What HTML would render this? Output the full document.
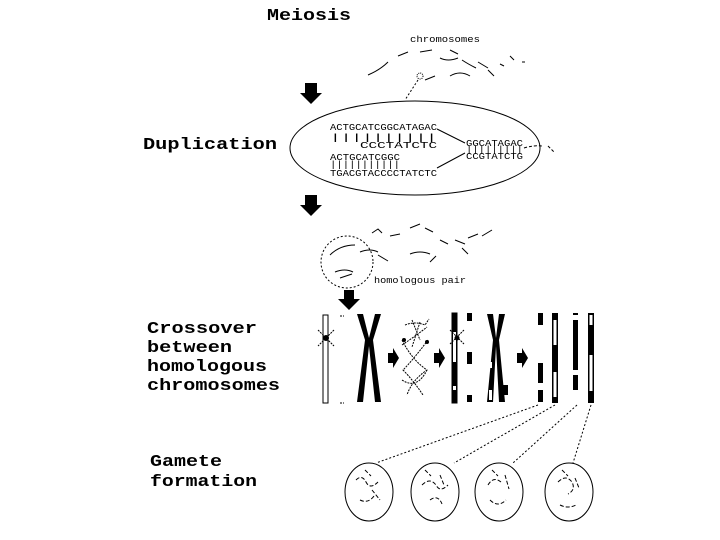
<!DOCTYPE html>
<html><head><style>
html,body{margin:0;padding:0;background:#fff;}
svg{display:block;}
.t{font-family:"Liberation Mono",monospace;font-weight:bold;font-size:17px;fill:#000;}
.s{font-family:"Liberation Mono",monospace;font-size:9px;fill:#000;}
</style></head><body>
<svg width="720" height="540" viewBox="0 0 720 540" xmlns="http://www.w3.org/2000/svg">
<rect width="720" height="540" fill="#fff"/>
<text class="t" x="267" y="20" textLength="84" lengthAdjust="spacingAndGlyphs">Meiosis</text>
<text class="t" x="143" y="149" textLength="134" lengthAdjust="spacingAndGlyphs">Duplication</text>
<text class="t" x="147" y="333" textLength="110" lengthAdjust="spacingAndGlyphs">Crossover</text>
<text class="t" x="147" y="352" textLength="85" lengthAdjust="spacingAndGlyphs">between</text>
<text class="t" x="147" y="371" textLength="120" lengthAdjust="spacingAndGlyphs">homologous</text>
<text class="t" x="147" y="390" textLength="133" lengthAdjust="spacingAndGlyphs">chromosomes</text>
<text class="t" x="150" y="466" textLength="72" lengthAdjust="spacingAndGlyphs">Gamete</text>
<text class="t" x="150" y="486" textLength="107" lengthAdjust="spacingAndGlyphs">formation</text>
<text class="s" x="410" y="42" textLength="70" lengthAdjust="spacingAndGlyphs">chromosomes</text>
<text class="s" x="374" y="283" textLength="92" lengthAdjust="spacingAndGlyphs">homologous pair</text>

<g fill="#000">
<polygon points="305,83 317,83 317,93 322,93 311,104 300,93 305,93"/>
<polygon points="305,195 317,195 317,205 322,205 311,216 300,205 305,205"/>
<polygon points="344,290 354,290 354,299 360,299 349,310 338,299 344,299"/>
<polygon points="388,353 393,353 393,348 399,358 393,368 393,363 388,363"/>
<polygon points="434,353 439,353 439,348 445,358 439,368 439,363 434,363"/>
<polygon points="517,353 522,353 522,348 528,358 522,368 522,363 517,363"/>
</g>

<g fill="none" stroke="#000" stroke-width="1">
<path d="M368,75 Q380,70 388,62 M398,56 l10,-4 M420,52 l12,-2 M450,50 l8,4 M440,58 q8,4 18,0 M462,60 q6,4 14,8 M478,62 l10,6 M488,70 l6,6 M450,76 q10,-6 20,0 M425,80 l10,-4 M500,64 l4,2 M510,56 l4,4 M522,62 l3,0"/>
<circle cx="420" cy="76" r="3" stroke-dasharray="1,1"/>
<path d="M418,80 L405,100" stroke-dasharray="2,2"/>
<ellipse cx="415" cy="148" rx="125" ry="47"/>
<path d="M437,129 L465,143 M437,168 L465,153"/>
<path d="M524,148 q10,-3 18,-2 M548,146 l6,6" stroke-dasharray="3,2"/>
<path d="M372,233 l6,-4 l4,4 M390,236 l10,-2 M410,228 l10,-4 M425,228 l8,4 M440,240 l8,4 M455,240 l10,4 M468,238 l10,-4 M482,236 l10,-6 M360,252 q10,-4 18,0 M378,255 l10,6 M410,254 q10,-4 20,0 M430,262 l6,-6 M462,248 l6,6"/>
<circle cx="347" cy="262" r="26" stroke-dasharray="2,2"/>
<path d="M330,255 q10,-10 25,-10 M335,272 q10,-4 18,0 M340,278 l12,-4"/>
</g>
<g font-family="Liberation Mono,monospace" font-size="9" fill="#000">
<text x="330" y="130" textLength="107" lengthAdjust="spacingAndGlyphs">ACTGCATCGGCATAGAC</text>
<text x="330" y="140" textLength="107" lengthAdjust="spacingAndGlyphs">    ||||||||||</text>
<text x="360" y="148" textLength="77" lengthAdjust="spacingAndGlyphs">CCCTATCTC</text>
<text x="330" y="160" textLength="70" lengthAdjust="spacingAndGlyphs">ACTGCATCGGC</text>
<text x="330" y="167" textLength="70" lengthAdjust="spacingAndGlyphs">|||||||||||</text>
<text x="330" y="176" textLength="107" lengthAdjust="spacingAndGlyphs">TGACGTACCCCTATCTC</text>
<text x="466" y="146" textLength="57" lengthAdjust="spacingAndGlyphs">GGCATAGAC</text>
<text x="466" y="152" textLength="57" lengthAdjust="spacingAndGlyphs">|||||||||</text>
<text x="466" y="159" textLength="57" lengthAdjust="spacingAndGlyphs">CCGTATCTG</text>
</g>

<!-- chromosomes -->
<g stroke="#000" fill="#fff">
<rect x="323" y="315" width="5" height="88"/>
</g>
<g stroke="#000" stroke-width="1" fill="none">
<path d="M318,330 l16,16 M334,330 l-16,16 M340,316 h4 M340,403 h4" stroke-dasharray="2,1"/>
</g>
<g fill="#000">
<circle cx="326" cy="338" r="3"/>
<polygon points="357,314 363,314 369,338 375,314 381,314 373,340 381,402 375,402 369,346 363,402 357,402 365,340"/>
</g>
<g fill="none" stroke="#000" stroke-dasharray="2,1">
<path d="M402,340 q10,20 25,30 q-15,10 -20,25 M428,340 q-15,20 -25,30 q10,10 20,25 M402,345 q15,-10 25,-18 M405,325 q10,-4 20,0 l4,-6 M402,380 q15,10 25,-10 M412,320 l8,20 M420,322 l-8,25"/>
</g>
<g fill="#000"><circle cx="404" cy="340" r="2"/><circle cx="427" cy="342" r="2"/></g>

<g stroke="#000" fill="#000">
<rect x="452" y="313" width="5" height="90"/>
</g>
<g fill="#fff"><rect x="453" y="332" width="3" height="30"/><rect x="453" y="386" width="3" height="4"/></g>
<g fill="#000">
<rect x="467" y="313" width="5" height="8"/><rect x="467" y="352" width="5" height="12"/><rect x="467" y="395" width="5" height="7"/>
<polygon points="487,314 493,314 496,338 499,314 505,314 499,340 505,402 499,402 496,346 493,402 487,402 493,340"/>
<rect x="503" y="385" width="5" height="10"/>
</g>
<g fill="#fff"><rect x="489" y="362" width="3" height="6"/><rect x="489" y="390" width="3" height="10"/></g>
<g stroke="#000" fill="none" stroke-dasharray="2,1"><path d="M450,330 l14,14 M464,330 l-14,14"/></g>
<circle cx="457" cy="338" r="2.5" fill="#000"/>

<g fill="#000">
<rect x="538" y="313" width="5" height="12"/><rect x="538" y="363" width="5" height="20"/><rect x="538" y="390" width="5" height="12"/>
<rect x="552" y="313" width="6" height="90"/>
<rect x="573" y="313" width="5" height="2"/><rect x="573" y="320" width="5" height="50"/><rect x="573" y="375" width="5" height="15"/>
<rect x="588" y="313" width="6" height="90"/>
</g>
<g fill="#fff"><rect x="553.5" y="320" width="3" height="25"/><rect x="553.5" y="372" width="3" height="25"/><rect x="589.5" y="315" width="3" height="10"/><rect x="589.5" y="355" width="3" height="36"/></g>

<g fill="none" stroke="#000" stroke-dasharray="2,2">
<path d="M538,405 L376,463 M555,405 L454,463 M577,405 L513,463 M591,405 L573,463"/>
</g>
<g fill="none" stroke="#000">
<ellipse cx="369" cy="492" rx="24" ry="29"/>
<ellipse cx="435" cy="492" rx="24" ry="29"/>
<ellipse cx="499" cy="492" rx="24" ry="29"/>
<ellipse cx="569" cy="492" rx="24" ry="29"/>
</g>
<g fill="none" stroke="#000" stroke-dasharray="4,2">
<path d="M356,480 q6,-6 10,2 q4,8 12,0 M360,500 q8,4 14,-4 M372,490 l8,10 M365,470 l6,6"/>
<path d="M422,485 q8,-8 14,0 q4,8 12,0 M430,500 q8,-6 12,4 M440,475 l4,10 M425,470 l6,6"/>
<path d="M488,485 q6,-10 14,-2 M490,500 q8,8 16,0 M505,475 l4,14 M492,470 l6,6"/>
<path d="M558,482 q8,-8 14,0 q4,8 -4,12 M560,505 q8,4 16,0 M575,478 l4,10 M562,470 l6,6"/>
</g>
</svg>
</body></html>
